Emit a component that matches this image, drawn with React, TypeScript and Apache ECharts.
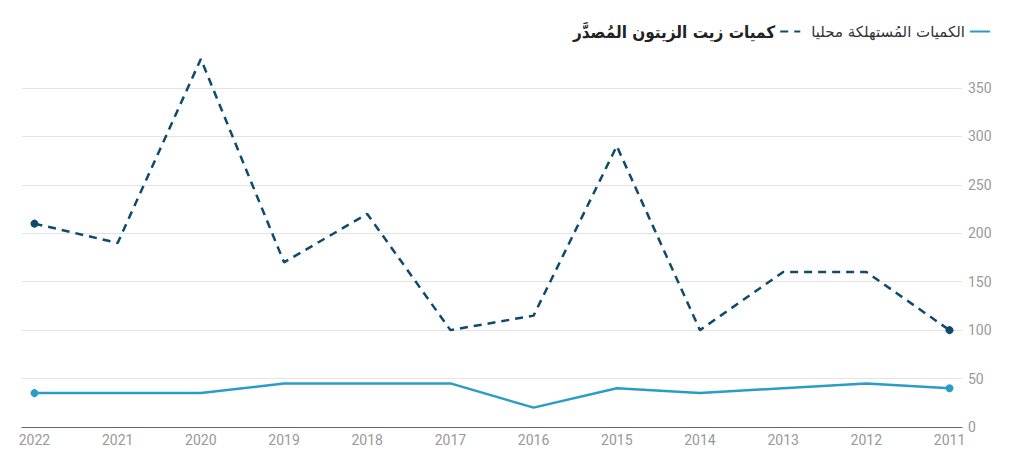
import React, { useEffect, useRef } from "react";
import * as echarts from "echarts";

const years = [2022, 2021, 2020, 2019, 2018, 2017, 2016, 2015, 2014, 2013, 2012, 2011];
const exported = [210, 190, 380, 170, 220, 100, 115, 290, 100, 160, 160, 100];
const consumed = [35, 35, 35, 45, 45, 45, 20, 40, 35, 40, 45, 40];
const yTicks = [0, 50, 100, 150, 200, 250, 300, 350];

const nameConsumed = "الكميات المُستهلكة محليا";
const nameExported = "كميات زيت الزيتون المُصدَّر";

function buildData(vals: number[]) {
  return vals.map((v, i) => {
    const endpoint = i === 0 || i === vals.length - 1;
    return endpoint
      ? { value: [years[i], v], symbol: "circle", symbolSize: 8 }
      : { value: [years[i], v] };
  });
}

export default function App() {
  const ref = useRef<HTMLDivElement>(null);
  useEffect(() => {
    if (!ref.current) return;
    const chart = echarts.init(ref.current, null, { renderer: "svg" });
    const font = "Roboto, 'Noto Sans', 'DejaVu Sans', sans-serif";
    chart.setOption({
      animation: false,
      backgroundColor: "#ffffff",
      legend: {
        top: 10,
        right: 20,
        align: "right",
        itemWidth: 20,
        itemHeight: 10,
        itemGap: 10,
        itemStyle: { opacity: 0 },
        data: [
          {
            name: nameExported,
            textStyle: {
              fontSize: 17,
              fontWeight: "bold",
              color: "#222222",
              fontFamily: "'DejaVu Sans Condensed', 'DejaVu Sans', sans-serif",
            },
          },
          {
            name: nameConsumed,
            textStyle: { fontSize: 15, color: "#333333", fontFamily: "'DejaVu Sans', sans-serif" },
          },
        ],
      },
      grid: { left: 14, right: 54, top: 80, bottom: 31 },
      xAxis: {
        type: "value",
        inverse: true,
        min: 2010.85,
        max: 2022.15,
        axisLine: { show: true, lineStyle: { color: "#666666", width: 1 } },
        axisTick: { show: false },
        splitLine: { show: false },
        axisLabel: {
          customValues: years,
          formatter: (v: number) => String(Math.round(v)),
          color: "#999999",
          fontSize: 14,
          fontFamily: font,
          margin: 6,
        },
      },
      yAxis: {
        type: "value",
        position: "right",
        min: 0,
        max: 350,
        interval: 50,
        axisLine: { show: false },
        axisTick: { show: false },
        splitLine: { show: true, lineStyle: { color: "#e3e3e3", width: 1 } },
        axisLabel: {
          color: "#999999",
          fontSize: 14,
          fontFamily: font,
          margin: 6,
          customValues: yTicks,
        },
      },
      series: [
        {
          name: nameConsumed,
          type: "line",
          clip: false,
          symbol: "none",
          data: buildData(consumed),
          lineStyle: { color: "#2a9dc5", width: 2.5 },
          itemStyle: { color: "#2a9dc5" },
          z: 3,
        },
        {
          name: nameExported,
          type: "line",
          clip: false,
          symbol: "none",
          data: buildData(exported),
          lineStyle: { color: "#0d4a6c", width: 2.5, type: [8, 6] },
          itemStyle: { color: "#0d4a6c" },
          z: 2,
        },
      ],
    });
    return () => chart.dispose();
  }, []);
  return <div ref={ref} style={{ width: 1008, height: 450 }} />;
}
